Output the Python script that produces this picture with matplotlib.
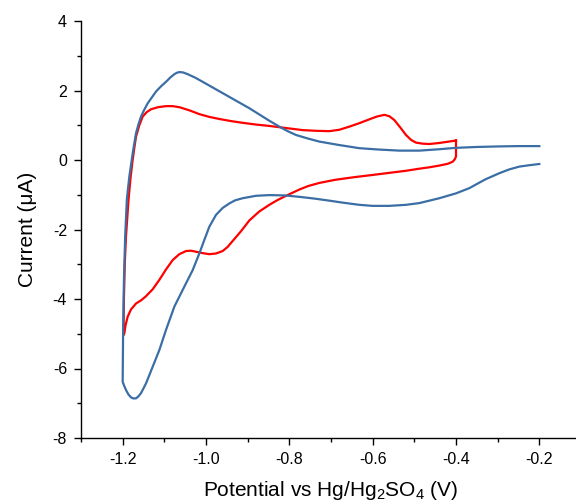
import numpy as np
import matplotlib
matplotlib.use('Agg')
import matplotlib.pyplot as plt
from matplotlib.ticker import MultipleLocator

plt.rcParams['font.family'] = ['Liberation Sans', 'DejaVu Sans']
plt.rcParams['mathtext.default'] = 'regular'

# ---- data (potential in V, current in uA) ----
blue_x = [-0.2, -0.224, -0.248, -0.272, -0.296, -0.33, -0.368, -0.4, -0.44, -0.488,
          -0.52, -0.56, -0.6, -0.632, -0.67, -0.704, -0.74, -0.776, -0.81, -0.848,
          -0.88, -0.912, -0.93, -0.944, -0.96, -0.976, -0.992, -1.004, -1.016, -1.032,
          -1.056, -1.076, -1.096, -1.112, -1.128, -1.144, -1.156, -1.162, -1.168, -1.175,
          -1.18, -1.186, -1.192, -1.197, -1.2, -1.199, -1.197, -1.194, -1.19, -1.187,
          -1.184, -1.18, -1.176, -1.172, -1.168, -1.162, -1.156, -1.148, -1.14, -1.13,
          -1.12, -1.108, -1.096, -1.086, -1.076, -1.07, -1.064, -1.055, -1.044, -1.026,
          -1.008, -0.98, -0.952, -0.924, -0.896, -0.872, -0.848, -0.824, -0.804, -0.784,
          -0.756, -0.728, -0.68, -0.632, -0.584, -0.536, -0.488, -0.44, -0.4, -0.35,
          -0.3, -0.25, -0.2]
blue_y = [-0.115, -0.15, -0.19, -0.27, -0.38, -0.56, -0.81, -0.96, -1.10, -1.24,
          -1.29, -1.32, -1.32, -1.29, -1.23, -1.17, -1.11, -1.06, -1.02, -1.01,
          -1.03, -1.10, -1.16, -1.25, -1.38, -1.58, -1.92, -2.30, -2.69, -3.17,
          -3.74, -4.22, -4.89, -5.47, -5.95, -6.43, -6.71, -6.80, -6.86, -6.86,
          -6.83, -6.75, -6.62, -6.48, -6.38, -5.0, -3.5, -2.2, -1.15, -0.8,
          -0.48, -0.15, 0.19, 0.48, 0.77, 1.03, 1.25, 1.45, 1.63, 1.80,
          1.97, 2.12, 2.25, 2.37, 2.47, 2.51, 2.53, 2.52, 2.47, 2.37,
          2.25, 2.06, 1.87, 1.68, 1.49, 1.31, 1.13, 0.96, 0.83, 0.72,
          0.62, 0.53, 0.43, 0.34, 0.30, 0.27, 0.27, 0.31, 0.35, 0.375,
          0.39, 0.40, 0.40]

red_x = [-0.4, -0.4, -0.4, -0.403, -0.408, -0.42, -0.44, -0.464, -0.488, -0.52,
         -0.56, -0.6, -0.648, -0.69, -0.728, -0.755, -0.776, -0.792, -0.808, -0.828,
         -0.848, -0.872, -0.896, -0.916, -0.936, -0.948, -0.96, -0.976, -0.992, -1.008,
         -1.024, -1.036, -1.048, -1.064, -1.08, -1.096, -1.112, -1.128, -1.144, -1.156,
         -1.168, -1.18, -1.188, -1.193, -1.196, -1.198, -1.197, -1.195, -1.192, -1.186,
         -1.181, -1.176, -1.172, -1.168, -1.16, -1.152, -1.142, -1.132, -1.115, -1.096,
         -1.08, -1.064, -1.04, -1.016, -0.992, -0.968, -0.94, -0.912, -0.88, -0.848,
         -0.808, -0.768, -0.736, -0.704, -0.68, -0.656, -0.632, -0.608, -0.59, -0.572,
         -0.56, -0.548, -0.534, -0.52, -0.508, -0.496, -0.48, -0.464, -0.44, -0.4]
red_y = [0.56, 0.30, 0.10, 0.02, -0.05, -0.11, -0.16, -0.21, -0.25, -0.31,
         -0.37, -0.43, -0.50, -0.57, -0.66, -0.75, -0.85, -0.94, -1.03, -1.15,
         -1.29, -1.48, -1.74, -2.05, -2.33, -2.50, -2.62, -2.69, -2.71, -2.68,
         -2.64, -2.61, -2.62, -2.71, -2.88, -3.15, -3.45, -3.72, -3.92, -4.04,
         -4.13, -4.30, -4.51, -4.75, -4.99, -5.04, -4.0, -3.0, -2.2, -1.15,
         -0.5, 0.0, 0.35, 0.67, 1.0, 1.25, 1.38, 1.46, 1.52, 1.55,
         1.55, 1.52, 1.43, 1.32, 1.24, 1.18, 1.12, 1.07, 1.02, 0.98,
         0.92, 0.86, 0.84, 0.83, 0.87, 0.96, 1.06, 1.17, 1.25, 1.30,
         1.26, 1.15, 0.94, 0.72, 0.58, 0.50, 0.47, 0.46, 0.49, 0.56]

blue_color = '#3A6EA5'
red_color = '#FF0000'

fig = plt.figure(figsize=(5.76, 5.04), dpi=100)
ax = fig.add_axes([81 / 576, 1 - 438 / 504, 500 / 576, 417 / 504])

ax.plot(red_x, red_y, color=red_color, lw=1.6, solid_joinstyle='round')
ax.plot(blue_x, blue_y, color=blue_color, lw=1.6, solid_joinstyle='round')

ax.set_xlim(-1.3, -0.1)
ax.set_ylim(-8, 4)
ax.xaxis.set_minor_locator(MultipleLocator(0.1))
ax.yaxis.set_minor_locator(MultipleLocator(1))
ax.set_xticks(np.arange(-1.2, -0.19, 0.2))
ax.set_xticklabels(['-1.2', '-1.0', '-0.8', '-0.6', '-0.4', '-0.2'])
ax.set_yticks(np.arange(-8, 5, 2))
ax.set_yticklabels(['-8', '-6', '-4', '-2', '0', '2', '4'])

ax.spines['top'].set_visible(False)
ax.spines['right'].set_visible(False)
ax.spines['left'].set_linewidth(1.0)
ax.spines['bottom'].set_linewidth(1.0)
ax.tick_params(axis='both', which='major', direction='out', length=5, width=1.0,
               labelsize=11.5, pad=5)
ax.tick_params(axis='both', which='minor', direction='out', length=2.7, width=1.0)

ax.set_xlabel('Potential vs Hg/Hg$_2$SO$_4$ (V)', fontsize=15, labelpad=9)
ax.set_ylabel('Current (\u03bcA)', fontsize=15, labelpad=11)

fig.savefig('out.png', dpi=100)
